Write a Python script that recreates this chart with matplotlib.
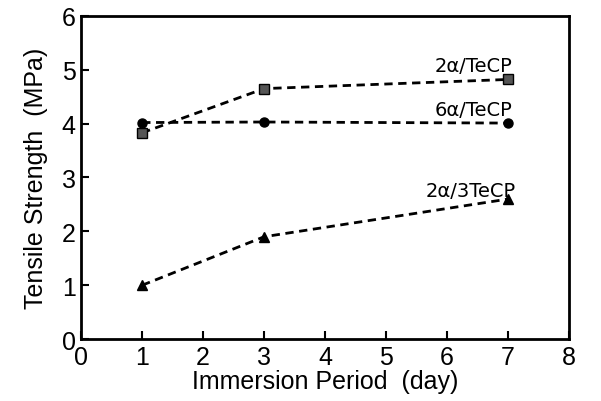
import matplotlib.pyplot as plt

days = [1, 3, 7]
s_2a_tecp = [3.83, 4.65, 4.82]
s_6a_tecp = [4.02, 4.03, 4.01]
s_2a_3tecp = [1.0, 1.9, 2.6]

plt.rcParams['font.family'] = ['Liberation Sans', 'DejaVu Sans']

fig = plt.figure(figsize=(6.01, 4.02), dpi=100)
ax = fig.add_axes([0.135, 0.154, 0.812, 0.804])

ax.plot(days, s_2a_tecp, 'k--', marker='s', markersize=6.5, markerfacecolor='#555555',
        markeredgecolor='black', linewidth=2, dashes=(3, 2))
ax.plot(days, s_6a_tecp, 'k--', marker='o', markersize=6.5, linewidth=2, dashes=(3, 2))
ax.plot(days, s_2a_3tecp, 'k--', marker='^', markersize=6.5, linewidth=2, dashes=(3, 2))

lab_font = dict(family=['DejaVu Sans'], fontsize=14, ha='right', va='bottom')
ax.text(7.07, 4.91, '2\u03b1/TeCP', **lab_font)
ax.text(7.07, 4.09, '6\u03b1/TeCP', **lab_font)
ax.text(7.12, 2.58, '2\u03b1/3TeCP', **lab_font)

ax.set_xlim(0, 8)
ax.set_ylim(0, 6)
ax.set_xticks(range(0, 9))
ax.set_yticks(range(0, 7))
ax.tick_params(direction='in', length=6, width=1.5, labelsize=18, pad=4)
for sp in ax.spines.values():
    sp.set_linewidth(2)

ax.set_xlabel('Immersion Period  (day)', fontsize=18, labelpad=0)
ax.set_ylabel('Tensile Strength  (MPa)', fontsize=18, labelpad=10)

fig.savefig('out.png', dpi=100)
